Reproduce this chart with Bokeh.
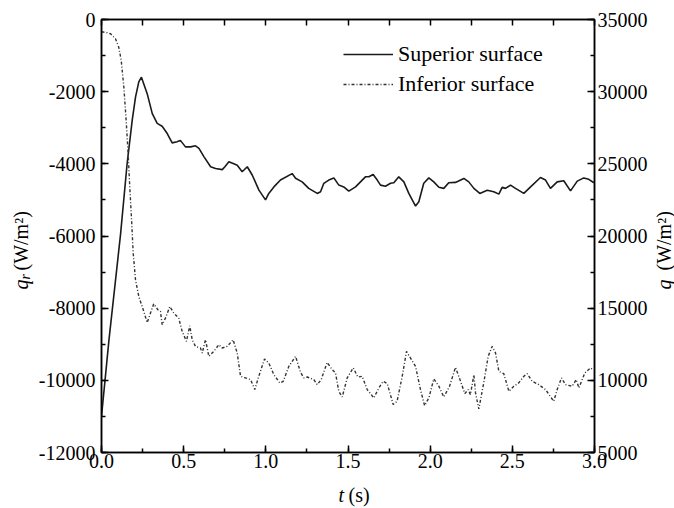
import math
import numpy as np
from bokeh.plotting import figure
from bokeh.models import (Range1d, LinearAxis, SingleIntervalTicker, FixedTicker, Legend,
                          LegendItem, Label, NumeralTickFormatter)
from bokeh.embed import file_html
from bokeh.resources import INLINE

# ---------------- data ----------------
t_sup = [0.0, 0.045, 0.116, 0.156, 0.187, 0.207, 0.227, 0.243, 0.278, 0.309, 0.339, 0.369,
         0.40, 0.43, 0.46, 0.48, 0.511, 0.542, 0.572, 0.593, 0.623, 0.664, 0.694, 0.735,
         0.751, 0.775, 0.805, 0.826, 0.856, 0.887, 0.917, 0.958, 0.998, 1.018, 1.049, 1.089,
         1.16, 1.181, 1.221, 1.261, 1.313, 1.333, 1.353, 1.383, 1.414, 1.444, 1.474, 1.505,
         1.546, 1.576, 1.606, 1.627, 1.653, 1.678, 1.698, 1.728, 1.759, 1.779, 1.809, 1.840,
         1.870, 1.911, 1.931, 1.961, 1.992, 2.022, 2.053, 2.083, 2.113, 2.154, 2.205, 2.235,
         2.266, 2.302, 2.347, 2.387, 2.418, 2.438, 2.458, 2.489, 2.519, 2.570, 2.611, 2.671,
         2.702, 2.732, 2.773, 2.813, 2.854, 2.895, 2.935, 2.965, 2.996]
q_sup = [-11000, -8900, -5950, -3990, -2790, -2150, -1730, -1600, -2055, -2610, -2880, -2960,
         -3160, -3420, -3390, -3350, -3530, -3530, -3500, -3570, -3800, -4080, -4130, -4160,
         -4080, -3945, -4000, -4040, -4220, -4080, -4310, -4730, -5000, -4820, -4640, -4450,
         -4270, -4400, -4500, -4680, -4820, -4775, -4540, -4450, -4390, -4590, -4640, -4755,
         -4640, -4500, -4360, -4360, -4295, -4450, -4590, -4620, -4540, -4525, -4360, -4500,
         -4820, -5170, -5050, -4540, -4390, -4500, -4650, -4680, -4525, -4515, -4405, -4500,
         -4680, -4820, -4730, -4775, -4840, -4650, -4680, -4590, -4680, -4820, -4640, -4380,
         -4450, -4680, -4500, -4470, -4750, -4480, -4390, -4430, -4525]

t_inf = [0.0, 0.03, 0.055, 0.085, 0.105, 0.12, 0.136, 0.15, 0.162, 0.172, 0.183, 0.193,
         0.207, 0.227, 0.254, 0.278, 0.298, 0.318, 0.343, 0.359, 0.369, 0.389, 0.416, 0.44,
         0.47, 0.491, 0.517, 0.537, 0.552, 0.572, 0.602, 0.613, 0.633, 0.653, 0.683, 0.714,
         0.734, 0.765, 0.801, 0.826, 0.846, 0.876, 0.907, 0.933, 0.957, 0.992, 1.018, 1.049,
         1.085, 1.106, 1.14, 1.181, 1.211, 1.231, 1.252, 1.292, 1.313, 1.337, 1.373, 1.404,
         1.424, 1.444, 1.465, 1.495, 1.532, 1.56, 1.586, 1.617, 1.657, 1.688, 1.714, 1.739,
         1.775, 1.799, 1.83, 1.856, 1.88, 1.911, 1.941, 1.966, 1.992, 2.022, 2.053, 2.083,
         2.118, 2.154, 2.185, 2.211, 2.231, 2.245, 2.266, 2.276, 2.296, 2.326, 2.353, 2.377,
         2.398, 2.418, 2.448, 2.479, 2.509, 2.539, 2.57, 2.591, 2.621, 2.661, 2.702, 2.752,
         2.773, 2.799, 2.824, 2.864, 2.889, 2.905, 2.941, 2.976, 2.99]
q_inf = [34150, 34100, 34010, 33670, 33085, 32170, 30320, 28020, 25720, 23410, 21110, 18800,
         16960, 15810, 14890, 14000, 14660, 15300, 14890, 14770, 13850, 14310, 15110, 14660,
         14310, 13390, 12700, 13780, 12810, 12350, 12240, 11890, 12810, 11660, 12000, 12470,
         12240, 12350, 12810, 11890, 10280, 10170, 10050, 9360, 10280, 11480, 11200, 10390,
         9820, 9930, 10970, 11660, 10560, 10170, 10230, 10050, 9700, 10050, 11240, 10740,
         10510, 9240, 8850, 10170, 10860, 10230, 10280, 9360, 8780, 9470, 9930, 9770,
         8320, 8550, 10280, 12000, 11550, 10970, 9360, 8250, 8780, 10100, 9590, 8850,
         9590, 10900, 9930, 9080, 9360, 9010, 10390, 9130, 8020, 9820, 11660, 12350,
         11890, 10620, 10460, 9240, 9590, 9820, 10280, 10460, 9930, 9700, 9360, 8550,
         9360, 10170, 9700, 9590, 10050, 9470, 10510, 10860, 10740]

series_names = ["Superior surface", "Inferior surface"]
x_ticks_interval = 0.5
left_ticks_interval = 2000
right_ticks_interval = 5000

# ---------------- layout ----------------
W, H = 674, 508
BL, BR, BT, BB = 101, 80, 19, 56
X0, X1 = 0.0, 3.0
Y0, Y1 = -12000, 0
R0, R1 = 5000, 35000
FONT = "Liberation Serif"

p = figure(width=W, height=H, output_backend="svg", toolbar_location=None,
           x_range=Range1d(X0, X1), y_range=Range1d(Y0, Y1),
           min_border_left=BL, min_border_right=BR, min_border_top=BT, min_border_bottom=BB)
p.extra_y_ranges = {"right": Range1d(R0, R1)}
p.grid.visible = False
p.outline_line_color = "black"
p.outline_line_width = 1.5
p.background_fill_color = "white"
p.border_fill_color = "white"

def style_axis(ax, standoff):
    ax.axis_line_color = "black"
    ax.axis_line_width = 1.5
    ax.major_tick_in = 7
    ax.major_tick_out = 0
    ax.minor_tick_in = 4
    ax.minor_tick_out = 0
    ax.major_tick_line_color = "black"
    ax.major_tick_line_width = 1.5
    ax.minor_tick_line_color = "black"
    ax.minor_tick_line_width = 1.5
    ax.major_label_text_font = FONT
    ax.major_label_text_font_size = "20px"
    ax.major_label_text_color = "black"
    ax.major_label_standoff = standoff
    ax.axis_label = None

xa = p.xaxis[0]
xa.ticker = SingleIntervalTicker(interval=x_ticks_interval, num_minor_ticks=2)
xa.formatter = NumeralTickFormatter(format="0.0")
style_axis(xa, 1)

ya = p.yaxis[0]
ya.ticker = SingleIntervalTicker(interval=left_ticks_interval, num_minor_ticks=2)
ya.formatter = NumeralTickFormatter(format="0")
style_axis(ya, 6)

ra = LinearAxis(y_range_name="right",
                ticker=SingleIntervalTicker(interval=right_ticks_interval, num_minor_ticks=2),
                formatter=NumeralTickFormatter(format="0"))
style_axis(ra, 3)
p.add_layout(ra, "right")

# top axis: tick marks only (no labels)
top_ticks = [float(v) for v in np.arange(X0, X1 + 1e-9, x_ticks_interval / 2)]
ta = LinearAxis(ticker=FixedTicker(ticks=[], minor_ticks=top_ticks))
style_axis(ta, 0)
ta.minor_tick_in = 6
p.add_layout(ta, "above")

r_sup = p.line(t_sup, q_sup, line_color="#1a1a1a", line_width=1.6)
r_inf = p.line(t_inf, q_inf, y_range_name="right", line_color="#333333", line_width=1.4,
               line_dash="3 2 1 2")

legend = Legend(items=[LegendItem(label=series_names[0], renderers=[r_sup]),
                       LegendItem(label=series_names[1], renderers=[r_inf])],
                location=(242, 355), orientation="vertical")
legend.border_line_color = None
legend.background_fill_alpha = 0
legend.padding = 0
legend.margin = 0
legend.spacing = 4
legend.glyph_width = 50
legend.glyph_height = 24
legend.label_height = 24
legend.label_standoff = 5
legend.label_text_font = FONT
legend.label_text_font_size = "22px"
legend.label_text_color = "black"
p.add_layout(legend, "center")

# ---------------- axis titles (composite, real text, canvas px) ----------------
# Each piece sits in a side panel (so it is not clipped to the frame); the panels
# are chosen so that the border sizes stay within the min_border values.
def lab(side, x, y, text, size, style="normal", angle=0.0):
    p.add_layout(Label(x=x, y=y, x_units="canvas", y_units="canvas", text=text,
                       text_font=FONT, text_font_size=f"{size}px",
                       text_font_style=style, text_color="black", angle=angle,
                       text_align="left", text_baseline="middle"), side)

A = math.pi / 2
TS, SS = 20, 14
# left: q_r (W/m2), reads bottom to top
lx, ly0 = 20, 289
lab("above", lx, ly0, "q", TS, "italic", A)
lab("above", lx + 5, ly0 - 10, "r", SS, "italic", A)
lab("left", lx, ly0 - 19, "(W/m²)", TS, "normal", A)
# right: q (W/m2) -- subscript runs off the edge in the original
rx, ry0 = 663, 289
lab("below", rx, ry0, "q", TS, "italic", A)
lab("right", rx, ry0 - 19, "(W/m²)", TS, "normal", A)
# bottom: t (s)
bx, by = 338, 494
lab("left", bx, by, "t", TS, "italic")
lab("below", bx + 10, by, "(s)", TS, "normal")

open("out.html", "w").write(file_html(p, INLINE))
